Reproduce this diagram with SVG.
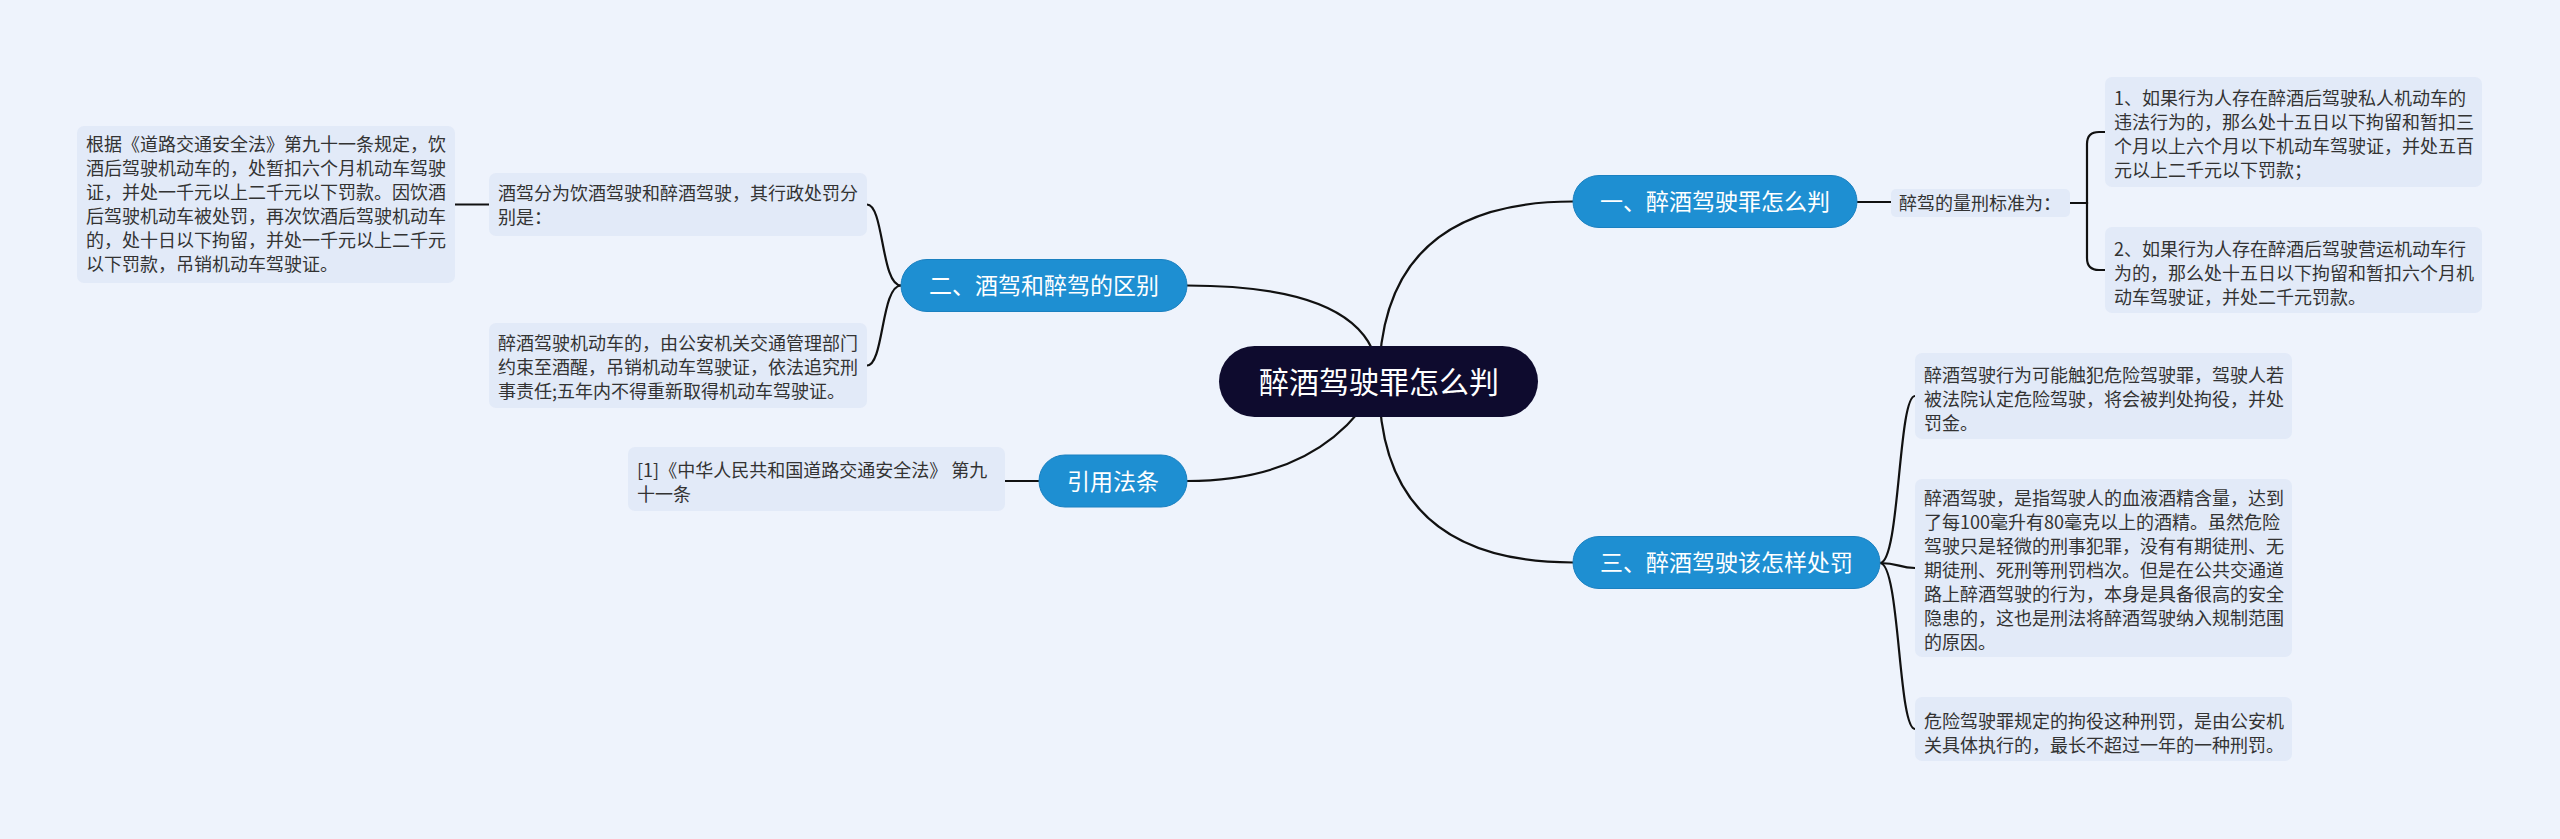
<svg xmlns="http://www.w3.org/2000/svg" width="2560" height="839" viewBox="0 0 2560 839">
<style>
.bg{fill:#eef3fc}
.box{fill:#e2eaf8}
.t{font-family:"Noto Sans CJK SC","Noto Sans",sans-serif;font-size:18px;fill:#333}
.br{fill:#1e8fd2;stroke:#1a80c0;stroke-width:1}
.bt{font-family:"Noto Sans CJK SC","Noto Sans",sans-serif;font-size:23px;fill:#fff;text-anchor:middle}
.root{fill:#0e0b2e}
.rt{font-family:"Noto Sans CJK SC","Noto Sans",sans-serif;font-size:30px;fill:#fff;text-anchor:middle}
.c{fill:none;stroke:#111;stroke-width:2.2}
</style>
<rect class="bg" x="0" y="0" width="2560" height="839"/>
<g id="connectors">
<path class="c" d="M1379 382 Q1379 285.5 1187 285.5"/>
<path class="c" d="M1379 382 Q1325 481 1187 481"/>
<path class="c" d="M1379 382 Q1379 201.5 1573 201.5"/>
<path class="c" d="M1379 382 Q1379 562.5 1573 562.5"/>
<path class="c" d="M1857 202 H1891"/>
<path class="c" d="M2070 203 H2087 V144 Q2087 132 2099 132 H2105"/>
<path class="c" d="M2070 203 H2087 V258 Q2087 270 2099 270 H2105"/>
<path class="c" d="M1880 563 C1900 563 1898 396 1915 396"/>
<path class="c" d="M1880 563 C1900 563 1898 568 1915 568"/>
<path class="c" d="M1880 563 C1900 563 1898 729 1915 729"/>
<path class="c" d="M901 285.5 C881 285.5 884 204.5 867 204.5"/>
<path class="c" d="M901 285.5 C881 285.5 884 365.5 867 365.5"/>
<path class="c" d="M489 204.5 H455"/>
<path class="c" d="M1039 481 H1005"/>
</g>
<g id="root">
<rect class="root" x="1219" y="346" width="319" height="71" rx="35.5"/>
<text class="rt" x="1379" y="393">醉酒驾驶罪怎么判</text>
</g>
<g id="b1">
<rect class="br" x="1573" y="175.5" width="284" height="52" rx="26"/>
<text class="bt" x="1715" y="210">一、醉酒驾驶罪怎么判</text>
</g>
<g id="b2">
<rect class="br" x="901" y="259.5" width="286" height="52" rx="26"/>
<text class="bt" x="1044" y="294">二、酒驾和醉驾的区别</text>
</g>
<g id="b3">
<rect class="br" x="1573" y="536.5" width="307" height="52" rx="26"/>
<text class="bt" x="1726.5" y="571">三、醉酒驾驶该怎样处罚</text>
</g>
<g id="b4">
<rect class="br" x="1039" y="455" width="148" height="52" rx="26"/>
<text class="bt" x="1113" y="489.5">引用法条</text>
</g>
<g id="label1">
<rect class="box" x="1891" y="189" width="179" height="28" rx="5"/>
<text class="t" x="1899" y="210">醉驾的量刑标准为：</text>
</g>
<g id="r1">
<rect class="box" x="2105" y="77" width="377" height="110" rx="7"/>
<text class="t" x="2114"><tspan x="2114" y="105">1、如果行为人存在醉酒后驾驶私人机动车的</tspan><tspan x="2114" y="129">违法行为的，那么处十五日以下拘留和暂扣三</tspan><tspan x="2114" y="153">个月以上六个月以下机动车驾驶证，并处五百</tspan><tspan x="2114" y="177">元以上二千元以下罚款；</tspan></text>
</g>
<g id="r2">
<rect class="box" x="2105" y="227" width="377" height="86" rx="7"/>
<text class="t"><tspan x="2114" y="256">2、如果行为人存在醉酒后驾驶营运机动车行</tspan><tspan x="2114" y="280">为的，那么处十五日以下拘留和暂扣六个月机</tspan><tspan x="2114" y="304">动车驾驶证，并处二千元罚款。</tspan></text>
</g>
<g id="s1">
<rect class="box" x="1915" y="353" width="377" height="86" rx="7"/>
<text class="t"><tspan x="1924" y="382">醉酒驾驶行为可能触犯危险驾驶罪，驾驶人若</tspan><tspan x="1924" y="406">被法院认定危险驾驶，将会被判处拘役，并处</tspan><tspan x="1924" y="430">罚金。</tspan></text>
</g>
<g id="s2">
<rect class="box" x="1915" y="479" width="377" height="178" rx="7"/>
<text class="t"><tspan x="1924" y="505">醉酒驾驶，是指驾驶人的血液酒精含量，达到</tspan><tspan x="1924" y="529">了每100毫升有80毫克以上的酒精。虽然危险</tspan><tspan x="1924" y="553">驾驶只是轻微的刑事犯罪，没有有期徒刑、无</tspan><tspan x="1924" y="577">期徒刑、死刑等刑罚档次。但是在公共交通道</tspan><tspan x="1924" y="601">路上醉酒驾驶的行为，本身是具备很高的安全</tspan><tspan x="1924" y="625">隐患的，这也是刑法将醉酒驾驶纳入规制范围</tspan><tspan x="1924" y="649">的原因。</tspan></text>
</g>
<g id="s3">
<rect class="box" x="1915" y="697" width="377" height="64" rx="7"/>
<text class="t"><tspan x="1924" y="728">危险驾驶罪规定的拘役这种刑罚，是由公安机</tspan><tspan x="1924" y="752">关具体执行的，最长不超过一年的一种刑罚。</tspan></text>
</g>
<g id="l1">
<rect class="box" x="77" y="126" width="378" height="157" rx="7"/>
<text class="t"><tspan x="86" y="151">根据《道路交通安全法》第九十一条规定，饮</tspan><tspan x="86" y="175">酒后驾驶机动车的，处暂扣六个月机动车驾驶</tspan><tspan x="86" y="199">证，并处一千元以上二千元以下罚款。因饮酒</tspan><tspan x="86" y="223">后驾驶机动车被处罚，再次饮酒后驾驶机动车</tspan><tspan x="86" y="247">的，处十日以下拘留，并处一千元以上二千元</tspan><tspan x="86" y="271">以下罚款，吊销机动车驾驶证。</tspan></text>
</g>
<g id="l2">
<rect class="box" x="489" y="173" width="378" height="63" rx="7"/>
<text class="t"><tspan x="498" y="200">酒驾分为饮酒驾驶和醉酒驾驶，其行政处罚分</tspan><tspan x="498" y="224">别是：</tspan></text>
</g>
<g id="l3">
<rect class="box" x="489" y="323" width="378" height="85" rx="7"/>
<text class="t"><tspan x="498" y="350">醉酒驾驶机动车的，由公安机关交通管理部门</tspan><tspan x="498" y="374">约束至酒醒，吊销机动车驾驶证，依法追究刑</tspan><tspan x="498" y="398">事责任;五年内不得重新取得机动车驾驶证。</tspan></text>
</g>
<g id="cite">
<rect class="box" x="628" y="447" width="377" height="64" rx="7"/>
<text class="t"><tspan x="637" y="477">[1]《中华人民共和国道路交通安全法》 第九</tspan><tspan x="637" y="501">十一条</tspan></text>
</g>
</svg>
